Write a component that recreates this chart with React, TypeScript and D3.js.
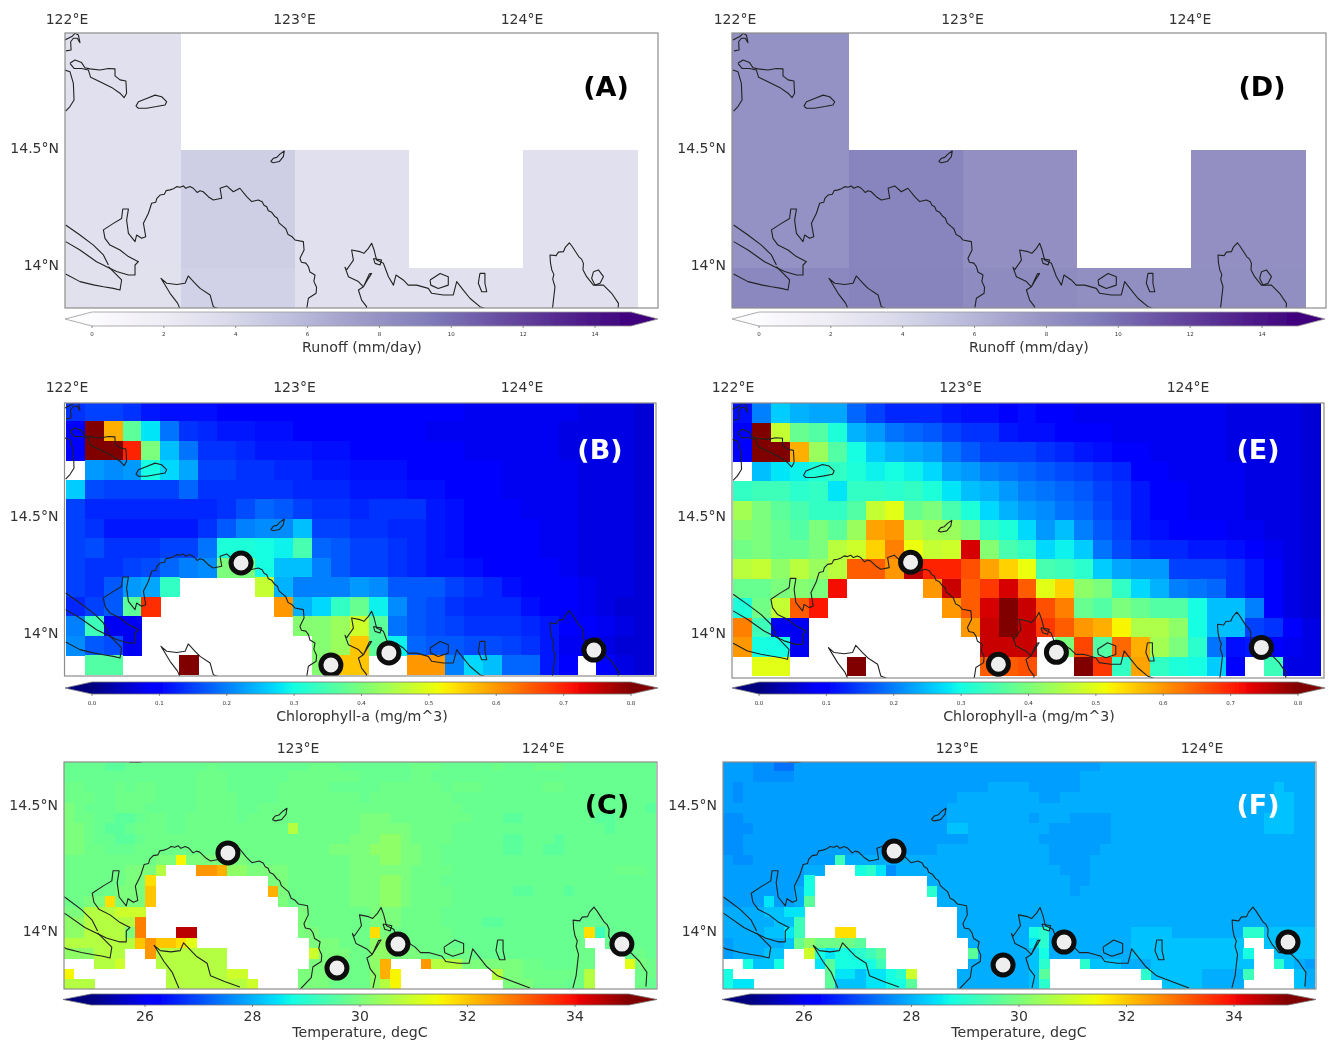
import React from "react";
import * as d3 from "d3";

const _ = null;

// runoff, mm/day, half degree cells
const runoffLonEdges = [121.5, 122.501, 123.002, 123.503, 124.004, 124.51];
const runoffLatEdges = [15.0, 14.49, 13.987, 13.5];
const runoffA = [
  [3.2, _, _, _, _],
  [3.2, 4.5, 3.2, _, 3.2],
  [3.1, 4.3, 3.2, 3.2, 3.2]
];
const runoffD = [
  [8.1, _, _, _, _],
  [8.1, 8.9, 8.2, _, 8.2],
  [8.7, 9.0, 8.5, 8.3, 8.3]
];
const runoffTicks = [0, 2, 4, 6, 8, 10, 12, 14];

// chlorophyll-a in hundredths of mg/m^3
const chlB = [
  [14,15,15,14,12,11,11,11,10,10,10,10,10,10,9,9,9,9,9,9,9,8,8,8,8,8,8,7,7,7,6],
  [10,80,58,37,28,19,14,13,12,12,11,11,10,10,10,9,9,9,9,8,8,8,8,8,8,8,7,7,7,7,6],
  [9,80,80,70,40,25,19,14,14,13,12,12,12,11,11,10,10,10,9,9,9,8,8,8,8,8,7,7,7,7,6],
  [_,22,21,22,30,27,23,15,15,14,14,13,13,12,12,11,11,11,10,10,9,9,9,8,8,8,8,7,7,7,6],
  [26,16,15,15,15,15,18,14,14,14,14,14,13,13,13,12,12,12,11,11,10,9,9,8,8,8,8,7,7,7,6],
  [15,13,13,13,13,13,13,13,14,16,18,17,15,14,14,13,14,14,14,12,11,10,9,9,8,8,8,7,7,7,6],
  [15,14,12,12,12,12,12,14,17,20,21,21,25,15,15,14,14,13,13,12,11,10,10,9,9,8,8,7,7,7,6],
  [15,16,14,14,14,15,15,19,31,31,30,29,35,18,17,15,15,14,13,12,11,10,10,9,9,8,8,7,7,7,6],
  [15,14,14,15,16,18,20,21,40,40,30,25,25,20,17,15,15,14,13,12,12,11,10,9,9,9,8,7,7,7,6],
  [15,14,17,22,23,33,_,_,_,_,47,24,20,20,20,22,21,17,17,17,15,14,13,11,10,10,9,8,7,7,6],
  [13,15,17,37,69,_,_,_,_,_,_,60,24,27,33,38,29,21,17,16,14,13,13,13,11,10,9,8,7,6,6],
  [20,34,8,8,_,_,_,_,_,_,_,_,41,41,43,48,37,19,17,16,15,14,14,14,13,12,10,9,8,7,6],
  [21,17,16,8,_,_,_,_,_,_,_,_,_,41,43,56,37,29,18,17,17,16,16,15,14,12,8,8,7,6,6],
  [_,36,36,_,_,_,80,_,_,_,_,_,_,41,56,56,_,_,60,60,20,27,25,18,18,12,9,_,9,7,6]
];
const chlE = [
  [11,20,26,24,23,23,18,15,13,13,13,12,11,11,10,11,10,10,8,8,8,8,8,8,8,8,7,7,7,7,6],
  [9,80,47,38,36,31,24,22,19,18,17,15,14,14,12,11,11,10,10,9,8,8,8,8,8,8,7,7,7,7,6],
  [9,80,80,58,43,36,30,26,24,23,22,19,17,15,15,15,14,13,12,11,10,9,8,8,8,8,7,7,7,7,6],
  [_,25,28,29,31,33,31,29,30,29,27,23,22,20,19,18,17,16,15,14,13,10,9,8,8,8,8,7,7,7,6],
  [33,34,34,32,33,28,33,33,32,33,31,28,25,24,22,20,19,18,17,15,14,12,10,9,8,8,8,7,7,7,6],
  [44,40,37,35,33,33,36,47,50,38,40,35,31,27,24,22,21,19,18,16,14,12,10,9,8,8,8,7,7,7,6],
  [41,40,38,36,40,37,43,59,60,46,44,43,40,33,31,27,22,25,20,17,15,12,11,10,9,9,8,8,7,7,6],
  [39,40,38,38,40,46,48,55,62,51,47,48,74,41,35,33,27,29,26,19,16,14,13,13,12,12,11,10,8,7,6],
  [46,47,42,46,43,46,65,65,60,76,70,70,66,59,55,51,35,34,32,26,23,22,22,15,15,15,14,12,9,7,6],
  [38,38,40,41,40,72,_,_,_,_,60,75,65,68,74,65,50,55,42,40,33,27,24,20,19,18,14,12,9,7,6],
  [31,39,47,65,71,_,_,_,_,_,_,60,65,74,80,75,66,62,38,36,40,38,36,36,30,25,25,20,10,7,6],
  [62,34,8,8,_,_,_,_,_,_,_,_,60,75,80,75,68,65,60,58,52,45,45,42,30,25,25,15,14,9,7],
  [60,30,30,8,_,_,_,_,_,_,_,_,_,75,75,75,_,40,67,36,64,58,44,40,32,19,11,12,10,8,7],
  [_,50,50,_,_,_,80,_,_,_,_,_,_,65,65,66,_,_,80,68,33,59,33,31,30,26,9,_,34,7,7]
];
const chlTicks = [0, 10, 20, 30, 40, 50, 60, 70, 80];

// temperature, one base-36 character per cell, looked up in tempLevels; "." = no data
const tempLevels = [
  26, 26.25, 26.5, 26.75, 27, 27.35, 27.65, 27.8, 27.95, 28.15, 28.5, 28.75,
  29, 29.25, 29.6, 29.75, 29.85, 30.0, 30.25, 30.7, 31, 31.25, 31.5, 31.75,
  32, 32.25, 32.5, 32.75, 33, 33.25, 33.5, 33.75, 34, 34.25, 34.5, 34.75
];
const tempC = [
  "ffffeeffff ffffgfffff ffffgggfff ffffgggfff ffgfffgggf ffffffff",
  "ffffffffff fffgggffff ffgggggggf ffffggffff ffffffffff ffffffff",
  "ggfffgfggf fffgggffff fgggggffff fggggggfgg gffffffggf ffffffff",
  "gggffggggf fffggggfff fggggggggf ggggggggff ffffffffff ffffffff",
  "hgfffgggff fffggggffg gggggggggg gggggggggf ffffffffff fffffffe",
  "hggffeefgg ffgggggfgg gggggggggh hhgggggggg fffeefffff ffeeffff",
  "hhgfeefggg ffgggggggg ggjggggggh hhhhggggff ffffffffff fffeffff",
  "hhgffeefgg gggggggggg gggggggghh hiihggggff fffeefffef ffffffff",
  "hhggfffggg gggggggggg gggggghhhh iiihhggfff fffeeffeef ffffffff",
  "gggggggggh hmhhhhhhgg gggggggghh hiihhggfff ffffffffff ffffffff",
  "gggggghhhj ...qqpiihh hhgggggghh hhhhggggff ffffffffff ffffgggf",
  "gggggghhn. .......... hhgggggghh hiihgggfff ffffffffff ffffffff",
  "ggggghhho. .......... phgggggghh hiihggggff ffffeefffe ffffffff",
  "gghhnhhho. .......... .hgggggghh hiihggggff ffffffffff ffffffff",
  "hhjjjkkk.. .......... ...hgggggg hhhggggfff ffffffffff ffffffff",
  "iijjjjjr.. .......... ...hgggggg hhhggggfff feefffffff ffffffff",
  "iijjjjhr.. .yy....... ...hhggggg nhggggggff ffffffffff gndfffff",
  "jjjjjjjoqo onl....... ....hhhggg iihhggggff ffffffffff g..fffff",
  "iiijjj..qj jjjjjj.... ....khhhgg iihhhggggg ffffffffff gg...fgf",
  "...jjk...j jjjjjj.... ....hhhggg ip...qjjjh hhhhhggfff gg...lhg",
  "m......... jjjjjjkk.. ...hhhhggg ipm....... ..jhhggggg gj....gg",
  "jjj....... jjjjjjjjk. ...hhhgggg ijm....... ...hhhgggf gj....gf"
];
const tempF = [
  "7776655777 7777777777 7777777777 7777777888 8888888888 88888888",
  "7776666777 7777777777 7777777777 7777788888 8888888888 88888888",
  "7677777777 7777777777 7777778888 7777788888 8888888888 88889888",
  "7677777777 7777777777 7778888888 8778888888 8888888888 88889988",
  "7777777777 7777777777 7788888888 8888888888 8888888888 88889988",
  "6677777777 7777777777 7788888888 7888777788 8888888888 88899988",
  "6667777777 7777777777 7799888888 8877777788 8888888888 88899988",
  "6677777777 7777777777 7777888888 8777777788 8888888888 88888888",
  "6677777777 7777777777 7888888888 8877777888 8888888888 88888888",
  "7667777777 7d88888888 8888888888 8877778888 8888888888 88888888",
  "7777777788 ...bca6888 8888888888 8887778888 8888888888 88888888",
  "77777777b. .......... 8888888888 8888778888 8888888888 88888888",
  "77777778b. .......... c888888888 8888788888 8888888888 88888888",
  "7777a778e. .......... .888888888 8888888888 8888888888 88888888",
  "888899aa.. .......... ...8888888 8888888888 8888888888 88888888",
  "8888899d.. .......... ...8888888 8888888888 8888888888 88888888",
  "888899ad.. .nn....... ...8888888 bc88888888 9999888888 8cc99999",
  "7888889fig ggge...... ....888888 ac88888888 9999999999 9..99999",
  "788899..kb abbcde.... ....e88888 9b88888888 9999999999 9b..9999",
  "..b99b...a ebbbbd.... ....888888 9c...c9998 8899999999 99..c987",
  "b......... eaa9aabck. ...8888888 9e........ .c99999888 8d....98",
  "baa....... e999aabbe. ...8888888 9c........ ...9999888 8.....98"
];
const tempTicks = [26, 28, 30, 32, 34];

// stations, lon/lat
const sitesB = [[122.765, 14.299], [123.16, 13.863], [123.415, 13.915], [124.316, 13.927]];
const sitesE = [[122.774, 14.308], [123.16, 13.872], [123.415, 13.923], [124.316, 13.944]];
const sitesC = [[122.714, 14.31], [123.159, 13.853], [123.408, 13.948], [124.322, 13.948]];
const sitesF = [[122.743, 14.317], [123.188, 13.865], [123.437, 13.956], [124.351, 13.956]];

// coastline, lon/lat
const coastA = [[121.991,14.962],[122.021,14.976],[122.035,14.99],[122.05,14.983],[122.057,14.95],[122.045,14.969],[122.028,14.969],[122.016,14.954],[122.018,14.919],[121.996,14.915]];
const coastB = [[121.991,14.833],[122.013,14.826],[122.028,14.776],[122.031,14.705],[122.013,14.677],[121.994,14.658]];
const coastC = [[122.013,14.862],[122.035,14.876],[122.064,14.865],[122.079,14.843],[122.101,14.838],[122.145,14.833],[122.182,14.84],[122.211,14.838],[122.211,14.808],[122.233,14.791],[122.259,14.786],[122.262,14.734],[122.251,14.715],[122.233,14.734],[122.196,14.759],[122.145,14.783],[122.104,14.802],[122.094,14.833],[122.064,14.84],[122.031,14.84],[122.013,14.862]];
const coastD = [[122.303,14.679],[122.314,14.698],[122.35,14.712],[122.387,14.726],[122.416,14.719],[122.438,14.698],[122.431,14.684],[122.394,14.677],[122.35,14.67],[122.314,14.67],[122.303,14.679]];
const coastE = [[122.895,14.442],[122.907,14.456],[122.922,14.46],[122.936,14.474],[122.955,14.487],[122.951,14.463],[122.933,14.442],[122.907,14.437],[122.895,14.442]];
const coastF = [[121.994,14.171],[122.057,14.128],[122.116,14.085],[122.16,14.043],[122.182,14.0]];
const coastG = [[121.994,14.1],[122.057,14.064],[122.13,14.014],[122.174,13.993],[122.218,13.972],[122.27,13.957],[122.299,13.957],[122.299,14.0],[122.314,14.014],[122.27,14.036],[122.233,14.064],[122.189,14.085],[122.167,14.114],[122.16,14.15],[122.204,14.178],[122.24,14.199],[122.245,14.239],[122.27,14.239],[122.262,14.192],[122.27,14.135],[122.299,14.1],[122.306,14.128],[122.328,14.114],[122.346,14.121],[122.336,14.178],[122.358,14.221],[122.372,14.264],[122.39,14.268],[122.395,14.285],[122.409,14.299],[122.428,14.302],[122.436,14.318],[122.453,14.321],[122.468,14.326],[122.482,14.335],[122.497,14.332],[122.511,14.338],[122.522,14.328],[122.54,14.335],[122.555,14.328],[122.572,14.31],[122.585,14.317],[122.599,14.313],[122.621,14.292],[122.643,14.278],[122.68,14.285],[122.673,14.328],[122.702,14.338],[122.731,14.313],[122.76,14.328],[122.79,14.292],[122.812,14.271],[122.841,14.278],[122.858,14.27],[122.866,14.255],[122.878,14.249],[122.885,14.232],[122.9,14.225],[122.914,14.207],[122.925,14.2],[122.932,14.18],[122.951,14.164],[122.962,14.155],[122.972,14.13],[122.988,14.122],[123.002,14.107],[123.039,14.1],[123.042,14.064],[123.024,14.029],[123.03,14.012],[123.05,14.008],[123.061,13.993],[123.068,13.97],[123.09,13.957],[123.085,13.93],[123.097,13.905],[123.095,13.879],[123.061,13.858],[123.054,13.815],[123.01,13.77]];
const coastH = [[121.994,13.962],[122.057,13.929],[122.116,13.915],[122.16,13.907],[122.204,13.9],[122.233,13.893],[122.24,13.936],[122.182,13.993]];
const coastI = [[122.514,13.773],[122.486,13.837],[122.453,13.879],[122.413,13.943],[122.438,13.922],[122.482,13.917],[122.519,13.922],[122.533,13.953],[122.563,13.922],[122.585,13.9],[122.629,13.872],[122.643,13.822],[122.7,13.8],[122.763,13.778]];
const coastJ = [[123.229,13.979],[123.259,14.021],[123.251,14.064],[123.288,14.057],[123.305,14.05],[123.325,14.071],[123.339,14.093],[123.35,14.064],[123.361,14.021],[123.391,14.007],[123.413,13.95],[123.435,13.914],[123.446,13.957],[123.478,13.936],[123.5,13.914],[123.537,13.914],[123.588,13.9],[123.603,13.879],[123.654,13.872],[123.698,13.872],[123.713,13.929],[123.742,13.893],[123.771,13.858],[123.815,13.822],[123.947,13.774]];
const coastK = [[123.229,13.979],[123.222,13.99],[123.237,13.95],[123.281,13.929],[123.303,13.907],[123.281,13.893],[123.295,13.85],[123.317,13.822],[123.306,13.774]];
const coastL = [[123.303,13.907],[123.325,13.943],[123.339,13.964],[123.329,13.962],[123.303,13.907]];
const coastM = [[123.347,14.028],[123.383,14.021],[123.376,14.0],[123.354,14.007],[123.347,14.028]];
const coastN = [[123.596,13.936],[123.64,13.964],[123.676,13.95],[123.676,13.914],[123.632,13.9],[123.599,13.914],[123.596,13.936]];
const coastO = [[123.815,13.964],[123.837,13.964],[123.837,13.922],[123.845,13.886],[123.823,13.886],[123.808,13.922],[123.815,13.964]];
const coastP = [[124.122,13.774],[124.135,13.822],[124.145,13.907],[124.135,13.94],[124.14,13.96],[124.131,13.979],[124.125,14.01],[124.123,14.043],[124.15,14.04],[124.16,14.055],[124.182,14.057],[124.19,14.075],[124.208,14.095],[124.22,14.08],[124.24,14.05],[124.25,14.035],[124.262,14.025],[124.27,14.007],[124.268,13.98],[124.284,13.95],[124.314,13.914],[124.358,13.914],[124.394,13.879],[124.424,13.836],[124.42,13.78]];
const coastQ = [[124.314,13.971],[124.336,13.979],[124.358,13.95],[124.343,13.922],[124.321,13.914],[124.306,13.943],[124.314,13.971]];
const coastLines = [coastA, coastB, coastC, coastD, coastE, coastF, coastG, coastH, coastI, coastJ, coastK, coastL, coastM, coastN, coastO, coastP, coastQ];

const jetStops = [0, 0.11, 0.125, 0.34, 0.35, 0.375, 0.64, 0.65, 0.66, 0.89, 0.91, 1];
const jetColors = ["#00007f", "#0000ff", "#0000ff", "#00dbff", "#00e5f7", "#14ffe2", "#eeff08", "#f7f600", "#ffec00", "#ff1300", "#e80000", "#800000"];
const purpleColors = ["#fcfbfd", "#efedf5", "#dadaeb", "#bcbddc", "#9e9ac8", "#807dba", "#6a51a3", "#54278f", "#3f007d"];

const jet = d3.scaleLinear<string>().domain(jetStops).range(jetColors).clamp(true);
const purples = d3.piecewise(d3.interpolateRgb, purpleColors);

const runoffColor = (v: number) => purples(Math.min(1, v / 15));
const chlColor = (v: number) => jet(v / 80);
const tempColor = (v: number) => jet((v - 25) / 10);

const decodeTemp = (rows: string[]) =>
  rows.map(r =>
    r
      .replace(/ /g, "")
      .split("")
      .map(c => (c === "." ? null : tempLevels[parseInt(c, 36)]))
  );

const gridLines = (
  values: (number | null)[][],
  lonEdge: (c: number) => number,
  latEdge: (r: number) => number
) =>
  values.flatMap((row, r) =>
    row.map((v, c) => ({ v, r, c, lon0: lonEdge(c), lon1: lonEdge(c + 1), lat0: latEdge(r), lat1: latEdge(r + 1) }))
  ).filter(d => d.v !== null);

const chlLon = (c: number) => 121.994 + c / 12;
const chlLat = (r: number) => 14.988 - r / 12;
const tempLon = (c: number) => 122.0437 + c / 24;
const tempLat = (r: number) => 14.6746 - r * 0.04127;

function ColorBar({ id, x0, x1, tip0, tip1, top, bottom, scale, color, low, high, ticks, fmt, tickSize, tickY, label, labelX, labelY, stroke }: any) {
  const mid = (top + bottom) / 2;
  const [d0, d1] = [scale.invert(x0), scale.invert(x1)];
  const stops = d3.range(0, 65).map(i => i / 64);
  return (
    <g>
      <defs>
        <linearGradient id={id} gradientUnits="userSpaceOnUse" x1={x0} x2={x1} y1={0} y2={0}>
          {stops.map(s => (
            <stop key={s} offset={s} stopColor={color(d0 + s * (d1 - d0))} />
          ))}
        </linearGradient>
      </defs>
      <rect x={x0} y={top} width={x1 - x0} height={bottom - top} fill={`url(#${id})`} />
      <path d={`M${x0},${top}L${tip0},${mid}L${x0},${bottom}Z`} fill={low} />
      <path d={`M${x1},${top}L${tip1},${mid}L${x1},${bottom}Z`} fill={high} />
      <path
        d={`M${x0},${top}L${x1},${top}L${tip1},${mid}L${x1},${bottom}L${x0},${bottom}L${tip0},${mid}Z`}
        fill="none"
        stroke={stroke}
        strokeWidth={0.8}
      />
      {ticks.map((t: number) => (
        <g key={t}>
          <line x1={scale(t)} x2={scale(t)} y1={bottom} y2={bottom + 2} stroke="#444" strokeWidth={0.6} />
          <text x={scale(t)} y={tickY} dy="0.35em" textAnchor="middle" fontSize={tickSize} fill="#333">
            {fmt(t)}
          </text>
        </g>
      ))}
      <text x={labelX} y={labelY} dy="0.35em" textAnchor="middle" fontSize={14.2} fill="#333">
        {label}
      </text>
    </g>
  );
}

function MapPanel({ id, frame, lonRange, latRange, lonTicks, latTicks, lonLabelY, labelDx = 0, labelDy = 0, cells, color, sites, tag, tagX, tagY, tagColor }: any) {
  const [fx0, fy0, fx1, fy1] = frame;
  const x = d3.scaleLinear().domain(lonRange[0]).range(lonRange[1]);
  const y = d3.scaleLinear().domain(latRange[0]).range(latRange[1]);
  const line = d3.line<number[]>().x(d => x(d[0])).y(d => y(d[1]));
  return (
    <g>
      <defs>
        <clipPath id={`clip-${id}`}>
          <rect x={fx0} y={fy0} width={fx1 - fx0} height={fy1 - fy0} />
        </clipPath>
      </defs>
      <g clipPath={`url(#clip-${id})`}>
        <g shapeRendering="crispEdges">
          {cells.map((d: any) => (
            <rect
              key={`${d.r}-${d.c}`}
              x={x(d.lon0)}
              y={y(d.lat0)}
              width={x(d.lon1) - x(d.lon0) + 0.3}
              height={y(d.lat1) - y(d.lat0) + 0.3}
              fill={color(d.v)}
            />
          ))}
        </g>
        {coastLines.map((c, i) => (
          <path key={i} d={line(c) as string} fill="none" stroke="#222" strokeWidth={1.1} strokeLinejoin="round" />
        ))}
        {(sites || []).map((s: number[], i: number) => (
          <circle key={i} cx={x(s[0])} cy={y(s[1])} r={10} fill="#eeeeee" stroke="#0c0c0c" strokeWidth={5} />
        ))}
      </g>
      <rect x={fx0} y={fy0} width={fx1 - fx0} height={fy1 - fy0} fill="none" stroke="#8c8c8c" strokeWidth={1.2} />
      {lonTicks.map((t: number) => (
        <text key={t} x={x(t) + labelDx} y={lonLabelY} dy="0.35em" textAnchor="middle" fontSize={14} fill="#333">
          {t}°E
        </text>
      ))}
      {latTicks.map((t: number) => (
        <text key={t} x={fx0 - 6} y={y(t) + labelDy} dy="0.35em" textAnchor="end" fontSize={14} fill="#333">
          {t}°N
        </text>
      ))}
      <text x={tagX} y={tagY} dy="0.35em" textAnchor="middle" fontSize={27} fontWeight="bold" fill={tagColor}>
        {tag}
      </text>
    </g>
  );
}

const runoffCells = (values: (number | null)[][]) =>
  gridLines(values, c => runoffLonEdges[c], r => runoffLatEdges[r]);

const fmtChl = (t: number) => (t / 100).toFixed(1);

export default function App() {
  const runoffBar = (id: string, dx: number) => (
    <ColorBar
      id={id}
      x0={92 + dx}
      x1={631 + dx}
      tip0={65 + dx}
      tip1={658 + dx}
      top={312}
      bottom={326}
      scale={d3.scaleLinear().domain([0, 14]).range([92 + dx, 595 + dx])}
      color={runoffColor}
      low="#fcfbfd"
      high="#3f007d"
      ticks={runoffTicks}
      fmt={String}
      tickSize={5.5}
      tickY={334}
      label="Runoff (mm/day)"
      labelX={362 + dx}
      labelY={347}
      stroke="#999"
    />
  );
  const chlBar = (id: string, dx: number) => (
    <ColorBar
      id={id}
      x0={92 + dx}
      x1={631 + dx}
      tip0={65 + dx}
      tip1={658 + dx}
      top={682}
      bottom={694}
      scale={d3.scaleLinear().domain([0, 80]).range([92 + dx, 631 + dx])}
      color={chlColor}
      low="#00007f"
      high="#800000"
      ticks={chlTicks}
      fmt={fmtChl}
      tickSize={5.5}
      tickY={703}
      label="Chlorophyll-a (mg/m^3)"
      labelX={362 + dx}
      labelY={716}
      stroke="#777"
    />
  );
  const tempBar = (id: string, dx: number) => (
    <ColorBar
      id={id}
      x0={91 + dx}
      x1={629 + dx}
      tip0={63 + dx}
      tip1={657 + dx}
      top={994}
      bottom={1005}
      scale={d3.scaleLinear().domain([26, 34]).range([145 + dx, 575 + dx])}
      color={tempColor}
      low="#00007f"
      high="#800000"
      ticks={tempTicks}
      fmt={String}
      tickSize={14}
      tickY={1016}
      label="Temperature, degC"
      labelX={360 + dx}
      labelY={1032}
      stroke="#777"
    />
  );

  const lonAll = [122, 123, 124];
  const lonPart = [123, 124];
  const lats = [14.5, 14];
  const tempLeft = decodeTemp(tempC);
  const tempRight = decodeTemp(tempF);

  return (
    <svg
      width={1330}
      height={1040}
      style={{ position: "absolute", left: 0, top: 0, fontFamily: "'DejaVu Sans', sans-serif" }}
    >
      <defs>
        <filter id="soft" filterUnits="userSpaceOnUse" x={0} y={0} width={1330} height={1040}>
          <feGaussianBlur stdDeviation={0.7} />
        </filter>
      </defs>
      <rect width={1330} height={1040} fill="#fff" />
      <g filter="url(#soft)">
        <MapPanel
          id="a"
          frame={[65, 33, 658, 308]}
          lonRange={[[122, 124], [67, 522]]}
          latRange={[[14.5, 14], [148, 265]]}
          lonTicks={lonAll}
          latTicks={lats}
          lonLabelY={19}
          cells={runoffCells(runoffA)}
          color={runoffColor}
          tag="(A)"
          tagX={606}
          tagY={87}
          tagColor="#000"
        />
        {runoffBar("bar-a", 0)}
        <MapPanel
          id="d"
          frame={[732, 33, 1326, 308]}
          lonRange={[[122, 124], [735, 1190]]}
          latRange={[[14.5, 14], [148, 265]]}
          lonTicks={lonAll}
          latTicks={lats}
          lonLabelY={19}
          cells={runoffCells(runoffD)}
          color={runoffColor}
          tag="(D)"
          tagX={1262}
          tagY={87}
          tagColor="#000"
        />
        {runoffBar("bar-d", 667)}
        <MapPanel
          id="b"
          frame={[64.5, 403, 656, 676]}
          lonRange={[[122, 124], [67, 522]]}
          latRange={[[14.5, 14], [516, 633]]}
          lonTicks={lonAll}
          latTicks={lats}
          lonLabelY={387}
          cells={gridLines(chlB, chlLon, chlLat)}
          color={chlColor}
          sites={sitesB}
          tag="(B)"
          tagX={600}
          tagY={450}
          tagColor="#fff"
        />
        {chlBar("bar-b", 0)}
        <MapPanel
          id="e"
          frame={[732, 403, 1324, 678]}
          lonRange={[[122, 124], [734.5, 1189.5]]}
          latRange={[[14.5, 14], [517.3, 634.3]]}
          lonTicks={lonAll}
          latTicks={lats}
          lonLabelY={387}
          labelDx={-1.5}
          labelDy={-1.3}
          cells={gridLines(chlE, chlLon, chlLat)}
          color={chlColor}
          sites={sitesE}
          tag="(E)"
          tagX={1258}
          tagY={450}
          tagColor="#fff"
        />
        {chlBar("bar-e", 667)}
        <MapPanel
          id="c"
          frame={[64, 762, 657, 989]}
          lonRange={[[123, 124], [298, 543]]}
          latRange={[[14.5, 14], [805, 931]]}
          lonTicks={lonPart}
          latTicks={lats}
          lonLabelY={748}
          cells={gridLines(tempLeft, tempLon, tempLat)}
          color={tempColor}
          sites={sitesC}
          tag="(C)"
          tagX={607}
          tagY={805}
          tagColor="#000"
        />
        {tempBar("bar-c", 0)}
        <MapPanel
          id="f"
          frame={[723, 762, 1316, 989]}
          lonRange={[[123, 124], [957, 1202]]}
          latRange={[[14.5, 14], [805, 931]]}
          lonTicks={lonPart}
          latTicks={lats}
          lonLabelY={748}
          cells={gridLines(tempRight, tempLon, tempLat)}
          color={tempColor}
          sites={sitesF}
          tag="(F)"
          tagX={1258}
          tagY={805}
          tagColor="#fff"
        />
        {tempBar("bar-f", 659)}
      </g>
    </svg>
  );
}
